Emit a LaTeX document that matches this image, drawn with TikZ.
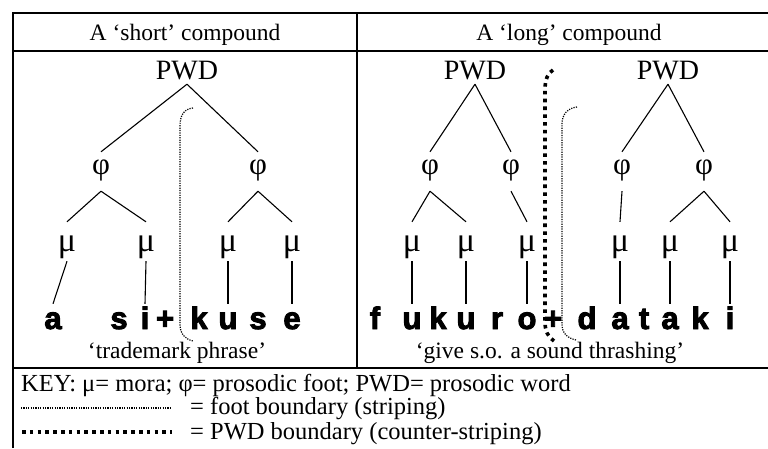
\documentclass[tikz,border=0pt]{standalone}
\usepackage{fontspec}
\setmainfont{Liberation Serif}
\newfontface\segfont{Liberation Sans Bold}[FakeBold=3]
\usetikzlibrary{positioning}
\newcommand{\labsize}{\fontsize{28}{30}\selectfont}
\newcommand{\phisize}{\fontsize{31}{33}\selectfont}
\newcommand{\musize}{\fontsize{34}{36}\selectfont}
\newcommand{\txtsize}{\fontsize{23.5}{26}\selectfont}
\newcommand{\keysize}{\fontsize{24.5}{27}\selectfont}

\begin{document}
\begin{tikzpicture}[
  x=1pt,y=-1pt,
  rule/.style={line width=1.4pt, draw=black},
  branch/.style={line width=1.1pt, draw=black},
  footb/.style={line width=1.2pt, dash pattern=on 1.2pt off 1.2pt},
  pwdb/.style={line width=3.6pt, dash pattern=on 3.6pt off 4.2pt},
  head/.style={font=\txtsize, inner sep=0pt, anchor=base},
  gloss/.style={font=\txtsize, inner sep=0pt, anchor=base},
  pwd/.style={font=\labsize, inner sep=0pt, anchor=base, text height=20pt, text depth=5pt},
  ft/.style={font=\phisize, inner sep=0pt, anchor=base, text height=22pt, text depth=17pt},
  mora/.style={font=\musize, inner sep=0pt, anchor=base, text height=29pt, text depth=10pt},
  seg/.style={font=\segfont\fontsize{31}{33}\selectfont, inner sep=0pt, anchor=base, text height=25pt, text depth=5pt},
  keytxt/.style={font=\keysize, inner sep=0pt, anchor=base west},
]
\useasboundingbox (0,0) rectangle (768,448);

\draw[rule] (13,448) -- (13,13) -- (768,13);
\draw[rule] (13,51) -- (768,51);
\draw[rule] (13,368) -- (768,368);
\draw[rule] (357,13) -- (357,368);

\node[head] (hS) at (185,40) {A ‘short’ compound};
\node[head] (hL) at (569,40) {A ‘long’ compound};

% short compound
\node[pwd] (pwdS) at (187,79) {PWD};
\node[ft] (ftS1) at (101,174) {φ};
\node[ft] (ftS2) at (258,174) {φ};
\node[mora] (muS1) at (67,251) {μ};
\node[mora] (muS2) at (146,251) {μ};
\node[mora] (muS3) at (228,251) {μ};
\node[mora] (muS4) at (292,251) {μ};
\node[seg] (sA) at (53,329) {a};
\node[seg] (sS1) at (119,329) {s};
\node[seg] (sI) at (145,329) {i};
\node[seg] (sPl) at (165,329) {+};
\node[seg] (sK) at (199,329) {k};
\node[seg] (sU) at (228,329) {u};
\node[seg] (sS2) at (258,329) {s};
\node[seg] (sE) at (292,329) {e};
\foreach \a/\b in {pwdS/ftS1,pwdS/ftS2,ftS1/muS1,ftS1/muS2,ftS2/muS3,ftS2/muS4,muS1/sA,muS2/sI,muS3/sU,muS4/sE}{\draw[branch] (\a.south) -- (\b.north);}
\draw[footb] (193,108) .. controls (184,109) and (180,115) .. (180,126) -- (180,324) .. controls (180,334) and (185,339) .. (193,341);
\node[gloss] (glS) at (177,358) {‘trademark phrase’};

% long compound
\node[pwd] (pwdL1) at (475,79) {PWD};
\node[pwd] (pwdL2) at (668,79) {PWD};
\node[ft] (ftL1) at (430,174) {φ};
\node[ft] (ftL2) at (511,174) {φ};
\node[ft] (ftL3) at (622,174) {φ};
\node[ft] (ftL4) at (704,174) {φ};
\node[mora] (muL1) at (412,251) {μ};
\node[mora] (muL2) at (466,251) {μ};
\node[mora] (muL3) at (527,251) {μ};
\node[mora] (muL4) at (620,251) {μ};
\node[mora] (muL5) at (670,251) {μ};
\node[mora] (muL6) at (730,251) {μ};
\node[seg] (lF) at (375,329) {f};
\node[seg] (lU1) at (412,329) {u};
\node[seg] (lK1) at (438,329) {k};
\node[seg] (lU2) at (466,329) {u};
\node[seg] (lR) at (497,329) {r};
\node[seg] (lO) at (527,329) {o};
\node[seg] (lPl) at (553,329) {+};
\node[seg] (lD) at (587,329) {d};
\node[seg] (lA1) at (620,329) {a};
\node[seg] (lT) at (644,329) {t};
\node[seg] (lA2) at (670,329) {a};
\node[seg] (lK2) at (700,329) {k};
\node[seg] (lI) at (730,329) {i};
\foreach \a/\b in {pwdL1/ftL1,pwdL1/ftL2,pwdL2/ftL3,pwdL2/ftL4,ftL1/muL1,ftL1/muL2,ftL2/muL3,ftL3/muL4,ftL4/muL5,ftL4/muL6,muL1/lU1,muL2/lU2,muL3/lO,muL4/lA1,muL5/lA2,muL6/lI}{\draw[branch] (\a.south) -- (\b.north);}
\draw[pwdb] (553,70) .. controls (548,73) and (545,79) .. (545,90) -- (545,322) .. controls (545,331) and (548,337) .. (554,341);
\draw[footb] (577,107) .. controls (568,108) and (562,114) .. (562,124) -- (562,324) .. controls (562,333) and (567,338) .. (576,340);
\node[gloss] (glL) at (550,358) {‘give s.o. a sound thrashing’};

% key
\node[keytxt] (keyA) at (21,391) {KEY: μ= mora; φ= prosodic foot; PWD= prosodic word};
\node[keytxt] (keyB) at (190,414) {= foot boundary (striping)};
\node[keytxt] (keyC) at (190,439) {= PWD boundary (counter-striping)};
\draw[footb] (21,408) -- (172,408);
\draw[pwdb] (22,432) -- (172,432);
\end{tikzpicture}
\end{document}
